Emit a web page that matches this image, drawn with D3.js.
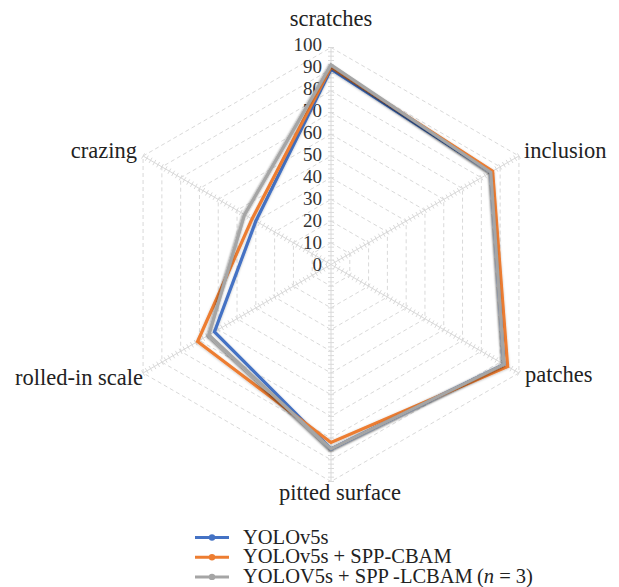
<!DOCTYPE html>
<html>
<head>
<meta charset="utf-8">
<script src="https://cdn.jsdelivr.net/npm/d3@7/dist/d3.min.js"></script>
<style>
  html, body { margin: 0; padding: 0; background: #fff; }
  svg { display: block; }
</style>
</head>
<body>
<svg id="chart" width="619" height="587"></svg>
<script>
// Defect categories, clockwise from the top
const categories = ["scratches", "inclusion", "patches", "pitted surface", "rolled-in scale", "crazing"];

// Per-class accuracy (%) for each model
const yolov5s      = [90, 85, 92, 85, 62, 40];
const sppCbam      = [91, 86, 94, 82, 71, 42];
const sppLcbam     = [92, 85, 92, 85, 65, 46];

// Radial scale ticks
const tickValues = [0, 10, 20, 30, 40, 50, 60, 70, 80, 90, 100];

const seriesNames = ["YOLOv5s", "YOLOv5s + SPP-CBAM", "YOLOV5s + SPP\u2009-LCBAM\u2009"];
const seriesColors = ["#4472C4", "#ED7D31", "#A5A5A5"];
const seriesData = [yolov5s, sppCbam, sppLcbam];

const SERIF = "Liberation Serif";

const svg = d3.select("#chart");
const cx = 331, cy = 264.5, R = 217;

const r = d3.scaleLinear().domain([0, 100]).range([0, R]);
const angle = d3.scaleOrdinal()
  .domain(categories)
  .range(categories.map((_, i) => -Math.PI / 2 + i * Math.PI / 3));

const pt = (cat, v) => [cx + r(v) * Math.cos(angle(cat)), cy + r(v) * Math.sin(angle(cat))];

const defs = svg.append("defs");
const shadow = defs.append("filter").attr("id", "lineShadow")
  .attr("x", "-20%").attr("y", "-20%").attr("width", "140%").attr("height", "140%");
shadow.append("feDropShadow")
  .attr("dx", -0.8).attr("dy", 1.2).attr("stdDeviation", 1.0)
  .attr("flood-color", "#000").attr("flood-opacity", 0.55);

const soft = defs.append("filter").attr("id", "softShadow")
  .attr("x", "-20%").attr("y", "-20%").attr("width", "140%").attr("height", "140%");
soft.append("feDropShadow")
  .attr("dx", 0).attr("dy", 0.6).attr("stdDeviation", 0.8)
  .attr("flood-color", "#000").attr("flood-opacity", 0.25);

const grid = svg.append("g");

// Dashed hexagonal gridlines
tickValues.slice(1).forEach(v => {
  grid.append("path")
    .attr("d", d3.line()(categories.map(c => pt(c, v))) + "Z")
    .attr("fill", "none")
    .attr("stroke", "#d9d9d9")
    .attr("stroke-width", 1)
    .attr("stroke-dasharray", "4,3");
});

// Spokes with minor tick marks
const minor = d3.range(2, 100.1, 2);
categories.forEach(c => {
  const [x2, y2] = pt(c, 100);
  grid.append("line")
    .attr("x1", cx).attr("y1", cy).attr("x2", x2).attr("y2", y2)
    .attr("stroke", "#d9d9d9").attr("stroke-width", 1);
  const a = angle(c);
  const px = -Math.sin(a), py = Math.cos(a);
  minor.forEach(v => {
    const [x, y] = pt(c, v);
    grid.append("line")
      .attr("x1", x - px * 3).attr("y1", y - py * 3)
      .attr("x2", x + px * 3).attr("y2", y + py * 3)
      .attr("stroke", "#d9d9d9").attr("stroke-width", 1);
  });
});

// Radial value labels along the top spoke
svg.append("g").selectAll("text")
  .data(tickValues).join("text")
  .attr("x", cx - 9)
  .attr("y", d => cy - r(d) * 1.015 + 6.5)
  .attr("text-anchor", "end")
  .style("font-family", SERIF)
  .attr("font-size", 19)
  .attr("fill", "#333")
  .text(d => d);

// Series polygons
const lineGen = d3.line().curve(d3.curveLinearClosed);
seriesData.forEach((vals, i) => {
  svg.append("path")
    .attr("d", lineGen(categories.map((c, j) => pt(c, vals[j]))))
    .attr("fill", "none")
    .attr("stroke", seriesColors[i])
    .attr("stroke-width", 3.2)
    .attr("stroke-linejoin", "miter")
    .attr("filter", i === 2 ? "url(#lineShadow)" : "url(#softShadow)");
});

// Category labels
const labelPos = {
  "scratches":       { x: 331, y: 26,  anchor: "middle" },
  "inclusion":       { x: 524, y: 158, anchor: "start" },
  "patches":         { x: 525, y: 382, anchor: "start" },
  "pitted surface":  { x: 340, y: 500, anchor: "middle" },
  "rolled-in scale": { x: 143, y: 385, anchor: "end" },
  "crazing":         { x: 137, y: 158, anchor: "end" }
};
svg.append("g").selectAll("text")
  .data(categories).join("text")
  .attr("x", d => labelPos[d].x)
  .attr("y", d => labelPos[d].y)
  .attr("text-anchor", d => labelPos[d].anchor)
  .style("font-family", SERIF)
  .attr("font-size", 22.5)
  .attr("fill", "#222")
  .text(d => d);

// Legend
const legend = svg.append("g").attr("transform", "translate(195,537.5)");
seriesNames.forEach((name, i) => {
  const g = legend.append("g").attr("transform", `translate(0,${i * 19.7})`);
  g.append("line").attr("x1", 0).attr("x2", 34).attr("y1", 0).attr("y2", 0)
    .attr("stroke", seriesColors[i]).attr("stroke-width", 3);
  g.append("circle").attr("cx", 17).attr("cy", 0).attr("r", 3.2).attr("fill", seriesColors[i]);
  const t = g.append("text").attr("x", 48).attr("y", 6)
    .style("font-family", SERIF)
    .attr("font-size", 20.5).attr("fill", "#222");
  t.append("tspan").text(name);
  if (i === 2) {
    t.append("tspan").text("(");
    t.append("tspan").attr("font-style", "italic").text("n");
    t.append("tspan").text(" = 3)");
  }
});
</script>
</body>
</html>
